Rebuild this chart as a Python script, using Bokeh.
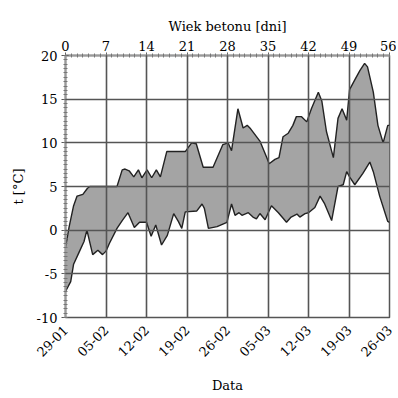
import numpy as np
from bokeh.plotting import figure
from bokeh.models import LinearAxis, FixedTicker, Range1d
from bokeh.embed import file_html
from bokeh.resources import INLINE

# Upper temperature curve (day, °C)
upper_day = [0, 0.6, 1.4, 2, 3, 3.8, 4.2, 8.9, 9.8, 10.3, 11, 11.8, 12.6, 13.2, 14.1, 14.9,
             15.7, 16.4, 17.5, 20.7, 21.8, 22.6, 23.8, 25.5, 27.2, 28.1, 28.7, 29.8, 30.7,
             31.4, 32, 33.6, 34.8, 35.2, 36.2, 36.9, 37.6, 38.5, 39.3, 39.9, 40.8, 41.7,
             42.5, 43.7, 44.3, 45.1, 46.3, 47.1, 47.8, 48.6, 49.1, 50, 50.9, 51.7, 52.2,
             53.2, 54, 54.9, 55.7, 56]
upper_t = [-2, 0.3, 2.8, 3.9, 4.1, 4.8, 5, 5, 6.9, 7, 6.8, 6.1, 6.9, 6, 6.9, 6,
           6.9, 6.1, 9, 9, 10, 9.9, 7.2, 7.2, 9.8, 10, 9.1, 13.9, 11.7,
           12, 11.6, 10.2, 8.3, 7.6, 8.1, 8.3, 10.7, 11.1, 12, 13, 13, 12.4,
           13.9, 15.8, 14.8, 11.3, 8.3, 12.8, 13.9, 12.6, 16.1, 17.2, 18.3, 19.1, 18.7,
           15.8, 12, 10, 12, 12]

# Lower temperature curve (day, °C)
lower_day = [0, 0.9, 1.4, 2.3, 3.2, 3.7, 4.7, 5.6, 6.4, 7, 7.6, 8.9, 9.8, 10.8, 11.9, 12.8,
             14, 14.8, 15.6, 16.6, 17.6, 18.7, 19.5, 20.1, 20.7, 22.7, 23.6, 24, 24.7,
             26.2, 27.9, 28.7, 29.3, 30, 30.5, 31.6, 32.4, 33, 33.6, 34.5, 35.6, 36.8,
             38.2, 39, 40, 40.5, 41.4, 42, 43.1, 44, 44.8, 46, 47.1, 48, 48.6, 49.1, 50,
             51.4, 52.6, 53.2, 54.3, 55.7, 56]
lower_t = [-7, -5.9, -3.9, -2.6, -1.3, 0, -2.8, -2.3, -2.8, -2.4, -1.5, 0.2, 1.1, 2, 0.3, 0.9,
           0.9, -0.7, 0.6, -1.7, -0.6, 1.9, 1, 0.2, 2.1, 2.2, 3, 2.5, 0.2,
           0.4, 0.9, 3, 1.7, 2, 1.7, 2, 1.5, 1.3, 1.9, 1.2, 2.8, 2,
           0.9, 1.5, 1.85, 1.5, 1.9, 2, 2.6, 3.9, 3, 1.1, 5, 5.2, 6.7, 6.1, 5.2,
           6.5, 7.8, 6.7, 3.9, 1, 0.9]

age_ticks = [0, 7, 14, 21, 28, 35, 42, 49, 56]
date_labels = ["29-01", "05-02", "12-02", "19-02", "26-02", "05-03", "12-03", "19-03", "26-03"]
y_ticks = [-10, -5, 0, 5, 10, 15, 20]
y_labels = ["-10", "-5", "0", "5", "10", "15", "20"]

FONT = "DejaVu Serif"
GRID = "#555555"
AXIS = "#9a9a9a"

p = figure(width=396, height=396, x_range=Range1d(0, 56), y_range=Range1d(-10, 20),
           output_backend="svg", toolbar_location=None,
           min_border_left=65, min_border_right=7, min_border_top=55, min_border_bottom=71)
p.background_fill_color = "white"
p.border_fill_color = "white"
p.outline_line_color = GRID
p.outline_line_width = 1.5

xs = list(upper_day) + list(lower_day[::-1])
ys = list(upper_t) + list(lower_t[::-1])
p.patch(xs, ys, fill_color="#a4a4a4", line_color=None)
p.line(upper_day, upper_t, line_color="#222222", line_width=1.4)
p.line(lower_day, lower_t, line_color="#222222", line_width=1.4)

# grids
p.xgrid.ticker = FixedTicker(ticks=age_ticks)
p.ygrid.ticker = FixedTicker(ticks=y_ticks)
for g in (p.xgrid[0], p.ygrid[0]):
    g.grid_line_color = GRID
    g.grid_line_width = 1.6
    g.level = "overlay"

# bottom axis (dates)
xa = p.xaxis[0]
xa.ticker = FixedTicker(ticks=age_ticks, minor_ticks=[])
xa.major_label_overrides = {t: d for t, d in zip(age_ticks, date_labels)}
xa.major_label_orientation = np.pi / 4
xa.axis_label = "Data"
xa.axis_line_color = None
xa.major_tick_line_color = None
xa.minor_tick_line_color = None

# top axis (age)
ta = LinearAxis(ticker=FixedTicker(ticks=age_ticks, minor_ticks=list(range(0, 57))),
                axis_label="Wiek betonu [dni]")
p.add_layout(ta, "above")
ta.axis_line_color = AXIS
ta.axis_line_width = 2
ta.major_tick_line_color = "#555555"
ta.major_tick_in = 4
ta.major_tick_out = 3
ta.minor_tick_line_color = "#777777"
ta.minor_tick_in = 2
ta.minor_tick_out = 2

# left axis
ya = p.yaxis[0]
ya.ticker = FixedTicker(ticks=y_ticks, minor_ticks=list(np.arange(-10, 20.01, 0.5)))
ya.major_label_overrides = {t: s for t, s in zip(y_ticks, y_labels)}
ya.axis_label = "t [°C]"
ya.axis_line_color = AXIS
ya.axis_line_width = 2
ya.major_tick_line_color = "#555555"
ya.major_tick_in = 3
ya.major_tick_out = 4
ya.minor_tick_line_color = "#777777"
ya.minor_tick_in = 2
ya.minor_tick_out = 2

for ax in (xa, ta, ya):
    ax.major_label_text_font = FONT
    ax.major_label_text_font_size = "13px"
    ax.major_label_text_color = "black"
    ax.axis_label_text_font = FONT
    ax.axis_label_text_font_size = "13px"
    ax.axis_label_text_font_style = "normal"
    ax.axis_label_text_color = "black"
ya.major_label_standoff = 4
ya.axis_label_standoff = 8
ta.major_label_standoff = 2
ta.axis_label_standoff = 4
xa.major_label_standoff = 4
xa.axis_label_standoff = 14

open("out.html", "w").write(file_html(p, INLINE))
